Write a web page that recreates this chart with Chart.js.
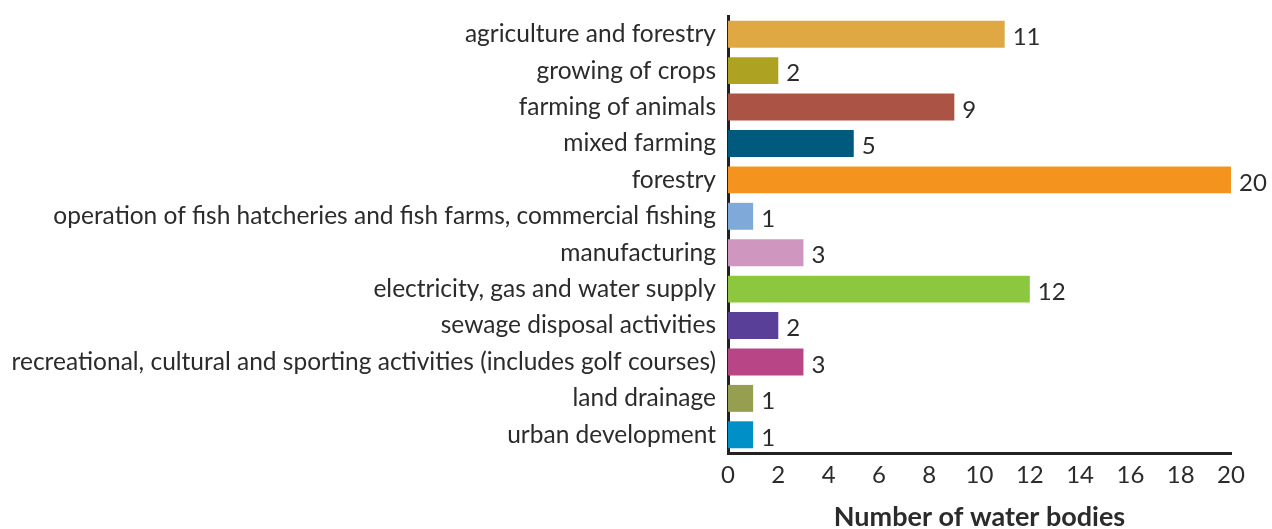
<!DOCTYPE html>
<html>
<head>
<meta charset="utf-8">
<script src="https://cdn.jsdelivr.net/npm/chart.js@4/dist/chart.umd.min.js"></script>
<style>
html,body{margin:0;padding:0;background:#fff;}
#wrap{width:1272px;height:529px;position:relative;}
</style>
</head>
<body>
<div id="wrap"><canvas id="chart"></canvas></div>
<script>
// ================= DATA =================
const categories = [
  "agriculture and forestry",
  "growing of crops",
  "farming of animals",
  "mixed farming",
  "forestry",
  "operation of fish hatcheries and fish farms, commercial fishing",
  "manufacturing",
  "electricity, gas and water supply",
  "sewage disposal activities",
  "recreational, cultural and sporting activities (includes golf courses)",
  "land drainage",
  "urban development"
];
const waterBodies = [11, 2, 9, 5, 20, 1, 3, 12, 2, 3, 1, 1];
const barColors = [
  "#dfa843", "#ada221", "#ab5345", "#005a7e", "#f4931e", "#7ea9d9",
  "#cf97bf", "#8dc63f", "#5a3f99", "#b84686", "#969e4f", "#0090c8"
];
const xTicks = [0, 2, 4, 6, 8, 10, 12, 14, 16, 18, 20];
const axisTitle = "Number of water bodies";

const FONT = "Lato, 'Open Sans', sans-serif";
const TEXT = "#2b2b2b";

// value labels at the bar ends
const valueLabels = {
  id: "valueLabels",
  afterDatasetsDraw(chart){
    const ctx = chart.ctx;
    const meta = chart.getDatasetMeta(0);
    ctx.save();
    ctx.font = "24px " + FONT;
    ctx.fillStyle = TEXT;
    ctx.textAlign = "left";
    ctx.textBaseline = "middle";
    meta.data.forEach((bar, i) => {
      ctx.fillText(String(waterBodies[i]), bar.x + 8, bar.y + 3);
    });
    ctx.restore();
  }
};

new Chart(document.getElementById("chart"), {
  type: "bar",
  data: {
    labels: categories,
    datasets: [{
      data: waterBodies,
      backgroundColor: barColors,
      borderWidth: 0,
      categoryPercentage: 1,
      barPercentage: 0.74
    }]
  },
  options: {
    indexAxis: "y",
    responsive: true,
    maintainAspectRatio: false,
    animation: false,
    layout: { padding: { top: 0, right: 41, bottom: 0, left: 0 } },
    plugins: { legend: { display: false }, tooltip: { enabled: false } },
    scales: {
      x: {
        min: 0,
        max: 20,
        afterBuildTicks(scale){ scale.ticks = xTicks.map(v => ({ value: v })); },
        afterFit(scale){ scale.height = 76; },
        grid: { display: false, drawTicks: false },
        border: { display: true, color: "#222", width: 3 },
        ticks: { color: TEXT, padding: 8, font: { family: FONT, size: 24 } },
        title: {
          display: true,
          text: axisTitle,
          color: TEXT,
          padding: { top: 0, bottom: -4 },
          font: { family: FONT, size: 27, weight: "bold" }
        }
      },
      y: {
        afterFit(scale){ scale.width = 728; scale.paddingTop = 16; scale.paddingBottom = 0; },
        grid: { display: false, drawTicks: false },
        border: { display: true, color: "#222", width: 3 },
        ticks: { color: TEXT, padding: 12, autoSkip: false, font: { family: FONT, size: 24.5 } }
      }
    }
  },
  plugins: [valueLabels]
});
</script>
</body>
</html>
